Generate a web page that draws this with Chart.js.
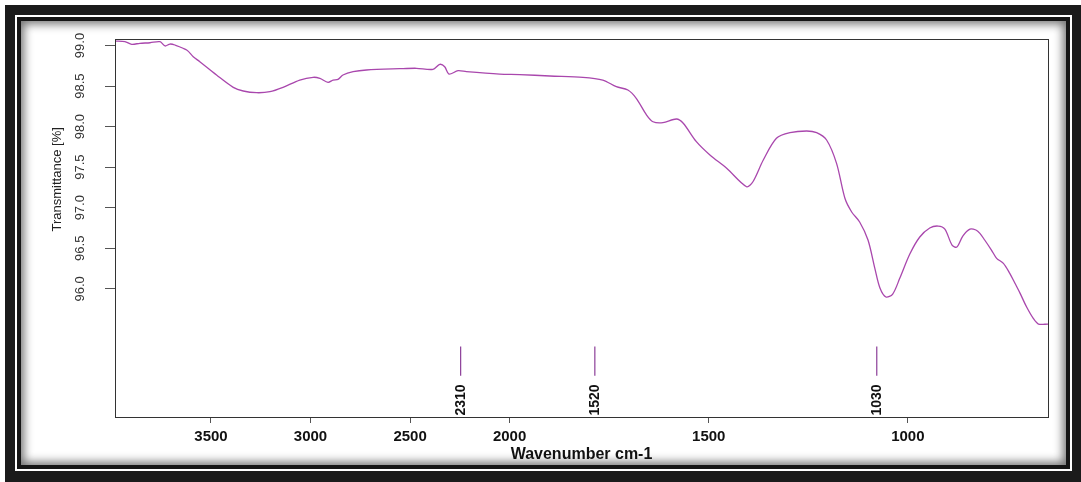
<!DOCTYPE html>
<html>
<head>
<meta charset="utf-8">
<script src="https://cdn.jsdelivr.net/npm/chart.js@4.4.0/dist/chart.umd.min.js"></script>
<style>
  body { margin: 0; background: #fff; }
  #frame { position: absolute; left: 5px; top: 5px; right: 0; bottom: 0; background: #1b1b1b; }
  #f1 { position: absolute; left: 10px; top: 10px; right: 9px; bottom: 11px; background: #fff; }
  #f2 { position: absolute; left: 2px; top: 2px; right: 2px; bottom: 2px; background: #151515; }
  #f3 { position: absolute; left: 4px; top: 4px; right: 4px; bottom: 4px; background: #fff;
        box-shadow: inset 0 0 10px 3px rgba(0,0,0,0.55); }
  #wrap { position: absolute; left: 0; top: 0; width: 1081px; height: 482px; }
</style>
</head>
<body>
<div id="frame"><div id="f1"><div id="f2"><div id="f3"></div></div></div></div>
<div id="wrap"><canvas id="ftirChart" width="1081" height="482"></canvas></div>

<script type="text/JavaScript">

//------------------------------------------------------------------------------------------
// Data (read off the spectrum)
//------------------------------------------------------------------------------------------

var wavenumbers = [3982, 3932, 3898, 3857, 3806, 3756, 3731, 3706, 3681, 3622, 3589, 3556,
    3472, 3388, 3338, 3271, 3204, 3138, 3054, 2987, 2953, 2912, 2887, 2862, 2837, 2786,
    2719, 2552, 2468, 2385, 2351, 2326, 2305, 2259, 2217, 2050,
    1975, 1899, 1816, 1766, 1732, 1703, 1682, 1656, 1640, 1615, 1581, 1564, 1531, 1497,
    1455, 1405, 1389, 1363, 1330, 1296, 1254, 1229, 1204, 1179, 1158, 1141, 1121, 1100,
    1083, 1070, 1055, 1038, 1020, 995, 970, 945, 924, 907, 889, 877, 862, 844, 829, 819,
    807, 790, 777, 760, 744, 731, 718, 702, 685, 672, 648];

var transmittance = [99.055, 99.047, 99.015, 99.027, 99.034, 99.047, 98.994, 99.018, 99.006, 98.944, 98.862, 98.800,
    98.636, 98.484, 98.439, 98.418, 98.430, 98.484, 98.574, 98.608, 98.595, 98.546, 98.574, 98.583, 98.636, 98.677,
    98.698, 98.714, 98.719, 98.706, 98.768, 98.738, 98.648, 98.689, 98.677, 98.648,
    98.642, 98.624, 98.608, 98.574, 98.492, 98.451, 98.349, 98.143, 98.060, 98.048, 98.094, 98.041, 97.814, 97.650,
    97.486, 97.259, 97.320, 97.588, 97.856, 97.925, 97.946, 97.925, 97.835, 97.547, 97.116, 96.947, 96.824, 96.602,
    96.256, 96.010, 95.899, 95.936, 96.133, 96.429, 96.639, 96.750, 96.774, 96.737, 96.540, 96.515, 96.651, 96.737, 96.725, 96.684,
    96.602, 96.478, 96.376, 96.314, 96.191, 96.068, 95.944, 95.779, 95.636, 95.566, 95.566];

var xTickValues = [3500, 3000, 2500, 2000, 1500, 1000];
var yTickValues = [99.0, 98.5, 98.0, 97.5, 97.0, 96.5, 96.0];

// peak markers: where the marks sit on the axis, and the text written next to them
var peakPositions = [2246, 1786, 1078];
var peakLabels = ["2310", "1520", "1030"];
var peakMarkTop = 95.29;
var peakMarkBottom = 94.93;
var peakTextLevel = 94.63;

var xTitle = "Wavenumber cm-1";
var yTitle = "Transmittance [%]";

//------------------------------------------------------------------------------------------
// the wavenumber axis is expanded 2x below 2000 cm-1
//------------------------------------------------------------------------------------------
function axisPos(wn) { return wn >= 2000 ? 4000 - wn : 2000 + 2 * (2000 - wn); }
function axisWn(u) { return u <= 2000 ? 4000 - u : 2000 - (u - 2000) / 2; }

var FONT = '"Liberation Sans", Arial, sans-serif';

// build the point lists
var spectrum = [];
for (var i in wavenumbers) {
    spectrum.push({ x: axisPos(wavenumbers[i]), y: transmittance[i] });
}

var datasets = [{
    data: spectrum,
    borderColor: "#a947ad",
    borderWidth: 1.3,
    pointRadius: 0,
    tension: 0.3
}];
for (var j in peakPositions) {
    datasets.push({
        data: [{ x: axisPos(peakPositions[j]), y: peakMarkTop }, { x: axisPos(peakPositions[j]), y: peakMarkBottom }],
        borderColor: "#8c3f98",
        borderWidth: 1.2,
        pointRadius: 0
    });
}

// box round the plot, y title and the peak texts
var framePlugin = {
    id: "framePlugin",
    afterDraw: function(chart) {
        var ctx = chart.ctx, a = chart.chartArea;
        var xs = chart.scales.x, ys = chart.scales.y;
        ctx.save();
        ctx.strokeStyle = "#333";
        ctx.lineWidth = 1;
        ctx.strokeRect(Math.round(a.left) + 0.5, Math.round(a.top) + 0.5,
                       Math.round(a.right - a.left), Math.round(a.bottom - a.top));

        ctx.fillStyle = "#222";
        ctx.textAlign = "center";
        ctx.textBaseline = "middle";

        // y axis title
        ctx.save();
        ctx.translate(57, ys.getPixelForValue(97.35));
        ctx.rotate(-Math.PI / 2);
        ctx.font = "13px " + FONT;
        ctx.fillText(yTitle, 0, 0);
        ctx.restore();

        // peak texts
        ctx.font = "bold 14px " + FONT;
        ctx.fillStyle = "#111";
        for (var k in peakLabels) {
            ctx.save();
            ctx.translate(xs.getPixelForValue(axisPos(peakPositions[k])), ys.getPixelForValue(peakTextLevel));
            ctx.rotate(-Math.PI / 2);
            ctx.fillText(peakLabels[k], 0, 0);
            ctx.restore();
        }
        ctx.restore();
    }
};

var ctxF = document.getElementById("ftirChart").getContext("2d");
var myChart = new Chart(ctxF, {
    type: "line",
    data: { datasets: datasets },
    plugins: [framePlugin],
    options: {
        responsive: false,
        animation: false,
        layout: { padding: { left: 0, top: 39, right: 33, bottom: 0 } },
        plugins: { legend: { display: false }, tooltip: { enabled: false } },
        scales: {
            x: {
                type: "linear",
                min: axisPos(3982),
                max: axisPos(648),
                border: { display: false },
                grid: { drawOnChartArea: false, drawTicks: true, tickLength: 6, color: "#555" },
                afterBuildTicks: function(scale) {
                    scale.ticks = xTickValues.map(function(v) { return { value: axisPos(v) }; });
                },
                afterFit: function(scale) { scale.height = 65; },
                ticks: {
                    autoSkip: false,
                    maxRotation: 0,
                    padding: 5,
                    color: "#111",
                    font: { family: FONT, size: 15, weight: "bold" },
                    callback: function(v) { return String(Math.round(axisWn(v))); }
                },
                title: {
                    display: true,
                    text: xTitle,
                    color: "#111",
                    font: { family: FONT, size: 16, weight: "bold" },
                    padding: { top: 0, bottom: 18 }
                }
            },
            y: {
                type: "linear",
                min: 94.42,
                max: 99.08,
                border: { display: false },
                grid: { drawOnChartArea: false, drawTicks: true, tickLength: 10, color: "#555" },
                afterBuildTicks: function(scale) {
                    scale.ticks = yTickValues.map(function(v) { return { value: v }; });
                },
                afterFit: function(scale) { scale.width = 115; },
                ticks: {
                    autoSkip: false,
                    minRotation: 90,
                    maxRotation: 90,
                    crossAlign: "center",
                    padding: 12,
                    color: "#333",
                    font: { family: FONT, size: 13 },
                    callback: function(v) { return v.toFixed(1); }
                }
            }
        }
    }
}); //Chart()

</script>
</body>
</html>
